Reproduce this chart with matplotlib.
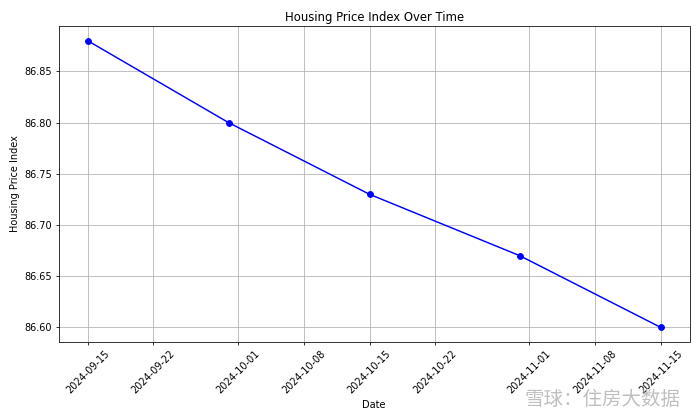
import matplotlib
matplotlib.use("Agg")
import matplotlib.pyplot as plt
import matplotlib.dates as mdates
import pandas as pd

dates = ["2024-09-15", "2024-09-30", "2024-10-15", "2024-10-31", "2024-11-15"]
index_values = [86.88, 86.80, 86.73, 86.67, 86.60]

x = pd.to_datetime(dates)

fig, ax = plt.subplots(figsize=(10, 6), dpi=70)
ax.plot(x, index_values, marker="o", linestyle="-", color="b")
ax.set_title("Housing Price Index Over Time")
ax.set_xlabel("Date")
ax.set_ylabel("Housing Price Index")
ax.grid(True)
ax.xaxis.set_major_formatter(mdates.DateFormatter("%Y-%m-%d"))
plt.xticks(rotation=45)
plt.tight_layout()

# watermark
fig.text(0.972, 0.025, "雪球：住房大数据", ha="right", va="bottom",
         fontsize=20, color="#b0b0b0", alpha=0.8,
         family=["Noto Sans CJK SC", "DejaVu Sans"])

fig.savefig("out.png", dpi=70)
